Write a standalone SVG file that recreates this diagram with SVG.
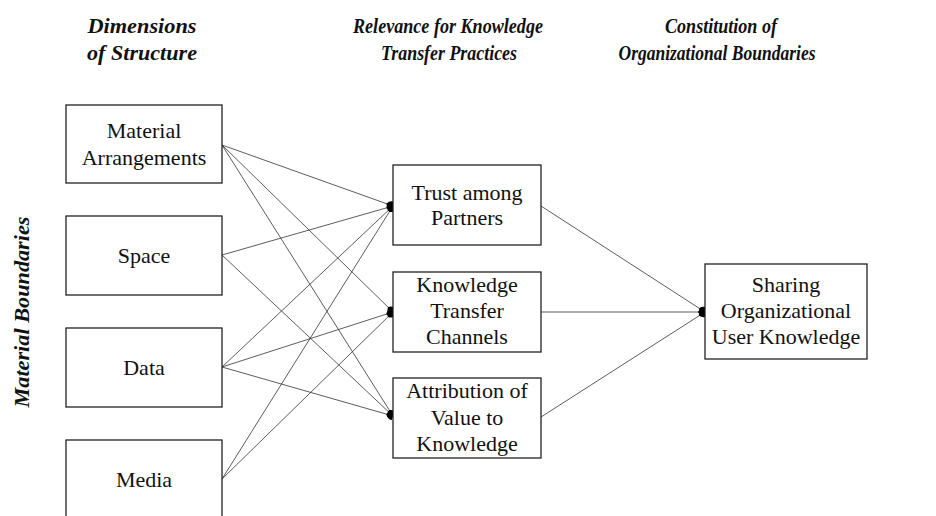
<svg xmlns="http://www.w3.org/2000/svg" width="936" height="516" viewBox="0 0 936 516">
  <style>
    .box { fill: #fff; stroke: #222; stroke-width: 1.3; }
    .lbl { font-family: "Liberation Serif", "Times New Roman", serif; font-size: 22px; fill: #111; text-anchor: middle; }
    .hdr { font-family: "Liberation Serif", "Times New Roman", serif; font-size: 22px; font-weight: bold; font-style: italic; fill: #111; text-anchor: middle; }
    .edge { stroke: #333; stroke-width: 0.8; fill: none; marker-end: url(#dot); }
  </style>
  <defs>
    <marker id="dot" markerUnits="userSpaceOnUse" markerWidth="12" markerHeight="12" viewBox="-9 -6 12 12" refX="0" refY="0" orient="auto">
      <path d="M-7,0 Q-5,-4.5 0,-4.5 L0,4.5 Q-5,4.5 -7,0 Z" fill="#000"/>
    </marker>
  </defs>
  <rect width="936" height="516" fill="#fff"/>

  <!-- column headings -->
  <g id="headings">
    <text class="hdr" x="142" y="33" textLength="109" lengthAdjust="spacingAndGlyphs">Dimensions</text>
    <text class="hdr" x="142" y="60" textLength="110" lengthAdjust="spacingAndGlyphs">of Structure</text>
    <text class="hdr" x="448" y="33" textLength="190" lengthAdjust="spacingAndGlyphs">Relevance for Knowledge</text>
    <text class="hdr" x="449" y="60" textLength="136" lengthAdjust="spacingAndGlyphs">Transfer Practices</text>
    <text class="hdr" x="721" y="33" textLength="112" lengthAdjust="spacingAndGlyphs">Constitution of</text>
    <text class="hdr" x="717" y="60" textLength="197" lengthAdjust="spacingAndGlyphs">Organizational Boundaries</text>
    <text class="hdr" transform="translate(29,312) rotate(-90)" x="0" y="0" textLength="191" lengthAdjust="spacingAndGlyphs">Material Boundaries</text>
  </g>

  <!-- connectors -->
  <g id="connectors">
    <line class="edge" x1="222" y1="145" x2="393" y2="206"/>
    <line class="edge" x1="222" y1="145" x2="393" y2="312"/>
    <line class="edge" x1="222" y1="145" x2="393" y2="416"/>
    <line class="edge" x1="222" y1="255" x2="393" y2="206"/>
    <line class="edge" x1="222" y1="255" x2="393" y2="416"/>
    <line class="edge" x1="222" y1="367" x2="393" y2="206"/>
    <line class="edge" x1="222" y1="367" x2="393" y2="312"/>
    <line class="edge" x1="222" y1="367" x2="393" y2="416"/>
    <line class="edge" x1="222" y1="479" x2="393" y2="206"/>
    <line class="edge" x1="222" y1="479" x2="393" y2="312"/>
    <line class="edge" x1="541" y1="206" x2="705" y2="312"/>
    <line class="edge" x1="541" y1="312" x2="705" y2="312"/>
    <line class="edge" x1="541" y1="417" x2="705" y2="312"/>
  </g>

  <!-- dimensions of structure -->
  <g id="material-arrangements">
    <rect class="box" x="66" y="105" width="156" height="78"/>
    <text class="lbl" x="144" y="137.5">Material</text>
    <text class="lbl" x="144" y="165">Arrangements</text>
  </g>
  <g id="space">
    <rect class="box" x="66" y="216" width="156" height="79"/>
    <text class="lbl" x="144" y="263">Space</text>
  </g>
  <g id="data">
    <rect class="box" x="66" y="328" width="156" height="79"/>
    <text class="lbl" x="144" y="375">Data</text>
  </g>
  <g id="media">
    <rect class="box" x="66" y="440" width="156" height="79"/>
    <text class="lbl" x="144" y="487">Media</text>
  </g>

  <!-- relevance for knowledge transfer -->
  <g id="trust">
    <rect class="box" x="393" y="165" width="148" height="80"/>
    <text class="lbl" x="467" y="200">Trust among</text>
    <text class="lbl" x="467" y="225">Partners</text>
  </g>
  <g id="channels">
    <rect class="box" x="393" y="272" width="148" height="80"/>
    <text class="lbl" x="467" y="292">Knowledge</text>
    <text class="lbl" x="467" y="318">Transfer</text>
    <text class="lbl" x="467" y="344">Channels</text>
  </g>
  <g id="attribution">
    <rect class="box" x="393" y="378" width="148" height="80"/>
    <text class="lbl" x="467" y="398">Attribution of</text>
    <text class="lbl" x="467" y="425">Value to</text>
    <text class="lbl" x="467" y="451">Knowledge</text>
  </g>

  <!-- organizational boundary -->
  <g id="sharing">
    <rect class="box" x="705" y="264" width="162" height="95"/>
    <text class="lbl" x="786" y="292">Sharing</text>
    <text class="lbl" x="786" y="318">Organizational</text>
    <text class="lbl" x="786" y="344">User Knowledge</text>
  </g>
</svg>
